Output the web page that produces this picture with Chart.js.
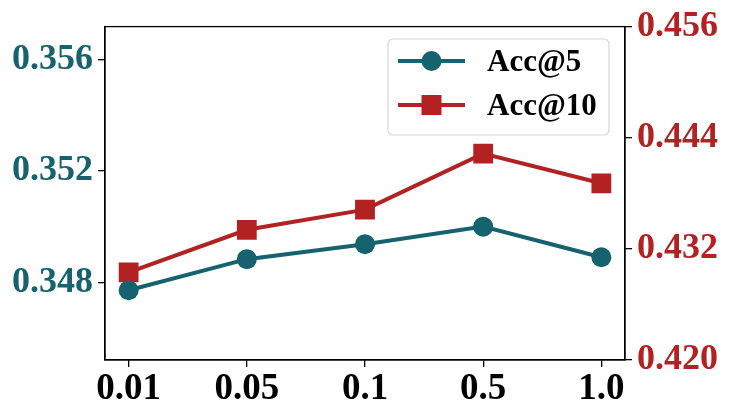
<!DOCTYPE html>
<html>
<head>
<meta charset="utf-8">
<script src="https://cdn.jsdelivr.net/npm/chart.js@4.4.0/dist/chart.umd.min.js"></script>
<style>
  html, body { margin: 0; padding: 0; background: #fff; }
  #wrap { width: 731px; height: 418px; }
</style>
</head>
<body>
<div id="wrap"><canvas id="myChart" width="731" height="418"></canvas></div>
<script>
const labels = ['0.01', '0.05', '0.1', '0.5', '1.0'];
const acc5 = [0.34771, 0.34883, 0.34937, 0.35000, 0.34890];
const acc10 = [0.42947, 0.43406, 0.43624, 0.44228, 0.43908];
const leftTicks = [0.348, 0.352, 0.356];
const rightTicks = [0.420, 0.432, 0.444, 0.456];

const teal = '#16626f';
const red = '#b22222';
const serif = "'Liberation Serif', 'Times New Roman', serif";

function toPoints(arr) {
    return arr.map((v, i) => ({ x: i, y: v }));
}

// frame + matplotlib style legend
const framePlugin = {
    id: 'frame',
    afterDatasetsDraw(chart) {
        const ctx = chart.ctx;
        const a = chart.chartArea;
        ctx.save();
        ctx.strokeStyle = '#000';
        ctx.lineWidth = 1.3;
        ctx.strokeRect(a.left, a.top, a.right - a.left, a.bottom - a.top);

        // legend box
        const bx = 388, by = 39, bw = 221, bh = 96, r = 5;
        ctx.beginPath();
        ctx.moveTo(bx + r, by);
        ctx.arcTo(bx + bw, by, bx + bw, by + bh, r);
        ctx.arcTo(bx + bw, by + bh, bx, by + bh, r);
        ctx.arcTo(bx, by + bh, bx, by, r);
        ctx.arcTo(bx, by, bx + bw, by, r);
        ctx.closePath();
        ctx.fillStyle = 'rgba(255,255,255,0.8)';
        ctx.fill();
        ctx.strokeStyle = '#d6d6d6';
        ctx.lineWidth = 1.2;
        ctx.stroke();

        const rows = [61, 105];
        chart.data.datasets.forEach((ds, i) => {
            const y = rows[i];
            ctx.strokeStyle = ds.borderColor;
            ctx.lineWidth = 4;
            ctx.beginPath();
            ctx.moveTo(398, y);
            ctx.lineTo(465, y);
            ctx.stroke();
            ctx.fillStyle = ds.borderColor;
            if (ds.pointStyle === 'rect') {
                ctx.fillRect(421.5, y - 10, 20, 20);
            } else {
                ctx.beginPath();
                ctx.arc(431.5, y, 10, 0, Math.PI * 2);
                ctx.fill();
            }
            ctx.fillStyle = '#000';
            ctx.font = 'bold 31px ' + serif;
            ctx.textBaseline = 'middle';
            ctx.textAlign = 'left';
            ctx.fillText(ds.label, 487, y + 2);
        });
        ctx.restore();
    }
};

const ctx = document.getElementById('myChart').getContext('2d');
const chart = new Chart(ctx, {
    type: 'line',
    data: {
        datasets: [{
            label: 'Acc@5',
            data: toPoints(acc5),
            yAxisID: 'y',
            borderColor: teal,
            backgroundColor: teal,
            borderWidth: 4,
            pointStyle: 'circle',
            pointRadius: 10,
            pointBorderWidth: 0,
            tension: 0
        }, {
            label: 'Acc@10',
            data: toPoints(acc10),
            yAxisID: 'y2',
            borderColor: red,
            backgroundColor: red,
            borderWidth: 4,
            pointStyle: 'rect',
            pointRadius: 14,
            pointBorderWidth: 0,
            tension: 0
        }]
    },
    options: {
        responsive: false,
        animation: false,
        layout: { padding: { top: 23, left: 0, right: 0, bottom: 0 } },
        plugins: {
            legend: { display: false },
            tooltip: { enabled: false }
        },
        scales: {
            x: {
                type: 'linear',
                min: -0.2,
                max: 4.2,
                afterBuildTicks: (s) => { s.ticks = labels.map((l, i) => ({ value: i })); },
                afterFit: (s) => { s.height = 58; },
                ticks: {
                    callback: (v) => labels[v],
                    color: '#000',
                    font: { family: serif, size: 37, weight: 'bold' },
                    padding: 0,
                    maxRotation: 0
                },
                grid: { drawOnChartArea: false, tickLength: 7, color: '#000', lineWidth: 1.3 },
                border: { color: '#000', width: 1.3 }
            },
            y: {
                position: 'left',
                min: 0.3452,
                max: 0.3572,
                afterBuildTicks: (s) => { s.ticks = leftTicks.map(v => ({ value: v })); },
                afterFit: (s) => { s.width = 105; },
                ticks: {
                    callback: (v) => v.toFixed(3),
                    color: teal,
                    font: { family: serif, size: 36, weight: 'bold' },
                    padding: 5
                },
                grid: { drawOnChartArea: false, tickLength: 7, color: '#000', lineWidth: 1.3 },
                border: { color: '#000', width: 1.3 }
            },
            y2: {
                position: 'right',
                min: 0.420,
                max: 0.456,
                afterBuildTicks: (s) => { s.ticks = rightTicks.map(v => ({ value: v })); },
                afterFit: (s) => { s.width = 106; },
                ticks: {
                    callback: (v) => v.toFixed(3),
                    color: red,
                    font: { family: serif, size: 36, weight: 'bold' },
                    padding: 5
                },
                grid: { drawOnChartArea: false, tickLength: 7, color: '#000', lineWidth: 1.3 },
                border: { color: '#000', width: 1.3 }
            }
        }
    },
    plugins: [framePlugin]
});
</script>
</body>
</html>
